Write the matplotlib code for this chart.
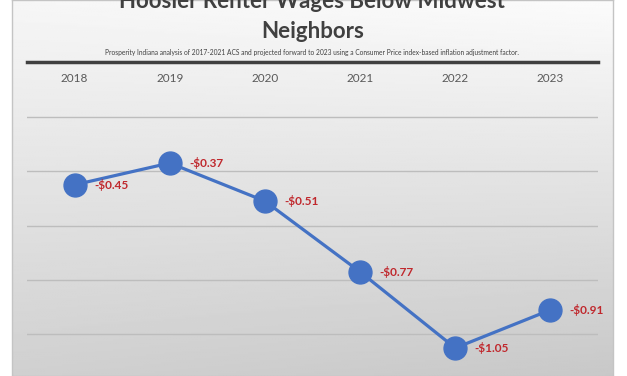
import numpy as np
import matplotlib
matplotlib.use("Agg")
import matplotlib.pyplot as plt

# chart data
years = ["2018", "2019", "2020", "2021", "2022", "2023"]
wage_gap = [-0.45, -0.37, -0.51, -0.77, -1.05, -0.91]
y_ticks = [0, -0.2, -0.4, -0.6, -0.8, -1.0, -1.2]

title_1 = "Hoosier Renter Wages Below Midwest"
title_2 = "Neighbors"
subtitle = ("Prosperity Indiana analysis of 2017-2021 ACS and projected forward to 2023 "
            "using a Consumer Price index-based inflation adjustment factor.")

W, H = 627, 376
fig = plt.figure(figsize=(W / 100, H / 100), dpi=100)
fig.patch.set_facecolor("white")

# gray gradient panel behind the chart
bg = fig.add_axes([12 / W, 0, 601 / W, 1], zorder=0)
gx, gy = np.meshgrid(np.linspace(0, 1, 200), np.linspace(0, 1, 200))
shade = 0.965 - 0.15 * gy - 0.03 * gx * gy + 0.02 * gx * (1 - gy)
bg.imshow(shade, cmap="gray", vmin=0, vmax=1, aspect="auto",
          extent=[0, 1, 0, 1], origin="upper")
bg.set_xticks([])
bg.set_yticks([])
for s in bg.spines.values():
    s.set_color("#c4c4c4")
    s.set_linewidth(1)

# main axes: value 0 sits at y=62 px, -1.2 falls below the bottom edge
top = 1 - 62.4 / H
bottom = 1 - 388.8 / H
ax = fig.add_axes([27 / W, bottom, 571 / W, top - bottom], zorder=1)
ax.patch.set_alpha(0)
ax.set_xlim(-0.5, len(years) - 0.5)
ax.set_ylim(-1.2, 0)

x = np.arange(len(years))
ax.plot(x, wage_gap, color="#4472C4", lw=2.3, marker="o", ms=16.5,
        zorder=3, clip_on=False)

for xi, v in zip(x, wage_gap):
    ax.annotate(f"-${abs(v):.2f}", (xi, v), xytext=(14, 0),
                textcoords="offset points", ha="left", va="center",
                color="#C0282D", fontsize=8.5, fontweight="bold",
                family="Lato", zorder=4)

# year labels sit just under the thick zero line
for xi, yr in zip(x, years):
    ax.annotate(yr, (xi, 1), xycoords=("data", "axes fraction"),
                xytext=(0, -11.5), textcoords="offset points",
                ha="center", va="center", color="#595959", fontsize=8.5,
                family="Lato")

ax.set_yticks(y_ticks)
ax.yaxis.grid(True, color="#bdbdbd", lw=1)
ax.set_yticklabels([])
ax.set_xticks([])
ax.tick_params(axis="y", length=0)
for name in ["left", "right", "bottom"]:
    ax.spines[name].set_visible(False)
ax.spines["top"].set_color("#404040")
ax.spines["top"].set_linewidth(2.5)
ax.set_axisbelow(True)

# titles (first line is cut by the top edge, as in the source image)
fig.text(312 / W, 1 - 8 / H, title_1, ha="center", va="baseline",
         fontsize=16, fontweight="bold", color="#404040", family="Lato")
fig.text(313 / W, 1 - 38 / H, title_2, ha="center", va="baseline",
         fontsize=16, fontweight="bold", color="#404040", family="Lato")
fig.text(312 / W, 1 - 52 / H, subtitle, ha="center", va="center",
         fontsize=4.8, color="#404040", family="Lato")

fig.savefig("out.png", dpi=100)
